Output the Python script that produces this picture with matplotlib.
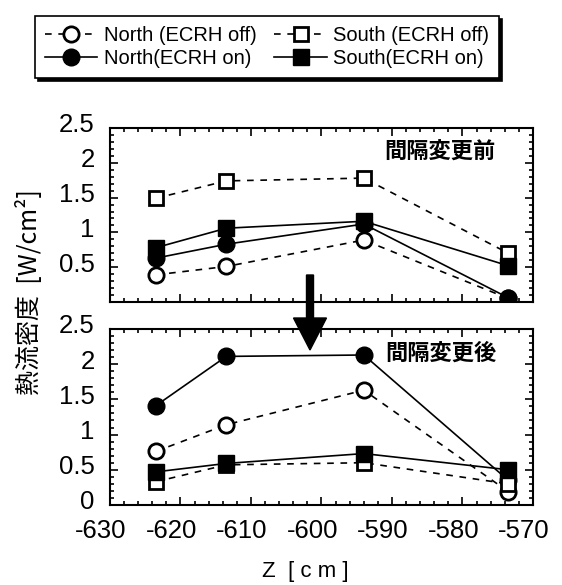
import matplotlib
matplotlib.use("Agg")
import matplotlib.pyplot as plt
from matplotlib.patches import FancyArrow
from matplotlib.ticker import MultipleLocator
from matplotlib.transforms import ScaledTranslation

plt.rcParams['font.family'] = ['Liberation Sans', 'Noto Sans CJK JP', 'DejaVu Sans']

# probe positions along z [cm]
z = [-623.5, -613.5, -594, -573.5]

# heat flux density [W/cm^2], before the gap change
north_off_before = [0.39, 0.51, 0.89, 0.05]
south_off_before = [1.49, 1.74, 1.78, 0.70]
north_on_before = [0.63, 0.83, 1.12, 0.06]
south_on_before = [0.78, 1.06, 1.16, 0.52]

# after the gap change
north_off_after = [0.76, 1.14, 1.63, 0.19]
south_off_after = [0.33, 0.57, 0.60, 0.30]
north_on_after = [1.41, 2.11, 2.13, 0.35]
south_on_after = [0.47, 0.59, 0.73, 0.50]

labels = ['North (ECRH off)', 'North(ECRH on)', 'South (ECRH off)', 'South(ECRH on)']

fig = plt.figure(figsize=(5.62, 5.85), dpi=100)
ax1 = fig.add_axes([0.1957, 0.4838, 0.7527, 0.2974])
ax2 = fig.add_axes([0.1957, 0.1368, 0.7527, 0.3009])

dash = (0, (4, 4))
# plain hyphen for negative numbers
fmt = plt.FuncFormatter(lambda v, p: f'{v:g}')


def draw(ax, n_off, s_off, n_on, s_on):
    h = []
    h += ax.plot(z, n_off, color='k', ls=dash, lw=1.2, marker='o', ms=11,
                 mfc='white', mec='k', mew=2, label=labels[0])
    h += ax.plot(z, n_on, color='k', ls='-', lw=1.2, marker='o', ms=12,
                 mfc='k', mec='k', label=labels[1])
    h += ax.plot(z, s_off, color='k', ls=dash, lw=1.2, marker='s', ms=10.5,
                 mfc='white', mec='k', mew=2, label=labels[2])
    h += ax.plot(z, s_on, color='k', ls='-', lw=1.2, marker='s', ms=11.5,
                 mfc='k', mec='k', label=labels[3])
    ax.set_xlim(-630, -570)
    ax.set_ylim(0, 2.5)
    ax.xaxis.set_major_locator(MultipleLocator(10))
    ax.xaxis.set_minor_locator(MultipleLocator(2))
    ax.yaxis.set_major_locator(MultipleLocator(0.5))
    ax.yaxis.set_minor_locator(MultipleLocator(0.1))
    ax.tick_params(which='both', direction='in', top=True, right=True,
                   labelsize=18.5, width=1.2)
    ax.tick_params(which='major', length=6)
    ax.tick_params(which='minor', length=3)
    ax.tick_params(axis='y', pad=11)
    ax.tick_params(axis='x', pad=10)
    for s in ax.spines.values():
        s.set_linewidth(1.5)
    ax.yaxis.set_major_formatter(fmt)
    ax.xaxis.set_major_formatter(fmt)
    return h


handles = draw(ax1, north_off_before, south_off_before, north_on_before, south_on_before)
draw(ax2, north_off_after, south_off_after, north_on_after, south_on_after)

ax1.tick_params(labelbottom=False)
ax1.set_yticks([0.5, 1, 1.5, 2, 2.5])
ax1.yaxis.set_major_formatter(fmt)

# tick labels sit a little above / left of their ticks
up = ScaledTranslation(0, 0.05, fig.dpi_scale_trans)
left = ScaledTranslation(-0.09, 0, fig.dpi_scale_trans)
for ax in (ax1, ax2):
    for lab in ax.get_yticklabels():
        lab.set_transform(lab.get_transform() + up)
for lab in ax2.get_xticklabels():
    lab.set_transform(lab.get_transform() + left)

ax1.text(-583.2, 2.15, '間隔変更前', fontsize=16, fontweight='bold',
         ha='center', va='center', family=['Noto Sans CJK JP'])
ax2.text(-583.0, 2.16, '間隔変更後', fontsize=16, fontweight='bold',
         ha='center', va='center', family=['Noto Sans CJK JP'])

fig.text(305 / 562, 1 - 571 / 585, 'Z  [ c m ]', fontsize=16, ha='center', va='center')
fig.text(0.053, 0.50, '熱流密度  [W/cm²]', rotation=90, fontsize=18,
         ha='center', va='center', family=['Noto Sans CJK JP', 'DejaVu Sans'])

# arrow from the upper panel into the lower one
fig.patches.append(FancyArrow(3.10, 3.10, 0, -0.75, width=0.07, head_width=0.33,
                              head_length=0.32, length_includes_head=True,
                              color='k', transform=fig.dpi_scale_trans, figure=fig,
                              zorder=5))

leg = fig.legend(handles, labels, ncol=2, loc='upper center',
                 bbox_to_anchor=(0.475, 0.99), fontsize=14.5, frameon=True,
                 fancybox=False, edgecolor='k', shadow={'color': 'k', 'alpha': 1},
                 handlelength=2.6, handletextpad=0.3, columnspacing=0.9,
                 labelspacing=0.2, borderpad=0.5)
leg.get_frame().set_linewidth(1.2)

fig.savefig('out.png', dpi=100)
